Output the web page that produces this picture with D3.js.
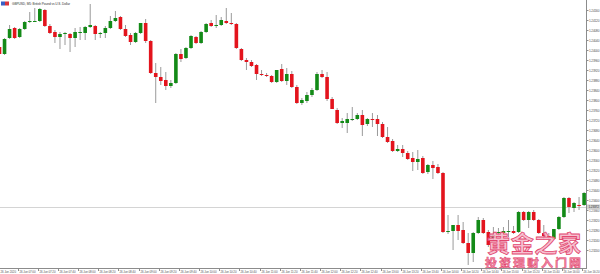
<!DOCTYPE html>
<html>
<head>
<meta charset="utf-8">
<script src="https://cdn.jsdelivr.net/npm/d3@7/dist/d3.min.js"></script>
<style>
  html, body { margin: 0; padding: 0; background: #fff; }
  svg { display: block; }
</style>
</head>
<body>
<svg id="chart" width="600" height="274"></svg>
<script>
// GBPUSD M5 candles
var open = [1.24012,1.23984,1.24048,1.24088,1.24052,1.24084,1.24112,1.24114,1.24116,1.24160,
  1.24096,1.24072,1.24052,1.24064,1.24064,1.24048,1.24070,1.24068,1.24092,1.24096,
  1.24064,1.24068,1.24088,1.24116,1.24132,1.24084,1.24060,1.24032,1.24068,1.24108,
  1.24036,1.23908,1.23892,1.23880,1.23856,1.23868,1.23984,1.23968,1.24008,1.24052,
  1.24028,1.24072,1.24108,1.24099,1.24100,1.24116,1.24108,1.24104,1.24004,1.23960,
  1.23952,1.23940,1.23904,1.23900,1.23896,1.23872,1.23924,1.23876,1.23904,1.23852,
  1.23788,1.23796,1.23820,1.23840,1.23904,1.23892,1.23804,1.23760,1.23708,1.23708,
  1.23722,1.23724,1.23740,1.23704,1.23724,1.23724,1.23704,1.23652,1.23636,1.23596,
  1.23604,1.23588,1.23568,1.23552,1.23568,1.23512,1.23540,1.23532,1.23508,1.23274,
  1.23276,1.23300,1.23280,1.23228,1.23188,1.23268,1.23320,1.23272,1.23248,1.23271,
  1.23268,1.23272,1.23276,1.23272,1.23352,1.23320,1.23352,1.23320,1.23268,1.23256,
  1.23244,1.23284,1.23332,1.23408,1.23368,1.23380,1.23380];
var high = [1.24020,1.24048,1.24100,1.24092,1.24088,1.24116,1.24152,1.24168,1.24168,1.24164,
  1.24104,1.24080,1.24072,1.24072,1.24068,1.24088,1.24092,1.24096,1.24184,1.24100,
  1.24072,1.24096,1.24136,1.24156,1.24136,1.24100,1.24068,1.24072,1.24108,1.24124,
  1.24040,1.23948,1.23932,1.23912,1.23880,1.23988,1.24004,1.24012,1.24060,1.24056,
  1.24076,1.24108,1.24120,1.24140,1.24132,1.24168,1.24148,1.24108,1.24008,1.23968,
  1.23960,1.23944,1.23920,1.23908,1.23900,1.23920,1.23944,1.23928,1.23916,1.23860,
  1.23808,1.23832,1.23848,1.23912,1.23920,1.23912,1.23812,1.23768,1.23728,1.23748,
  1.23772,1.23748,1.23760,1.23728,1.23748,1.23740,1.23712,1.23692,1.23644,1.23620,
  1.23620,1.23596,1.23592,1.23600,1.23576,1.23544,1.23556,1.23544,1.23512,1.23340,
  1.23300,1.23340,1.23312,1.23268,1.23272,1.23332,1.23328,1.23280,1.23292,1.23288,
  1.23292,1.23320,1.23296,1.23356,1.23356,1.23356,1.23360,1.23324,1.23300,1.23268,
  1.23260,1.23336,1.23412,1.23412,1.23392,1.23412,1.23432];
var low = [1.23980,1.23980,1.24044,1.24044,1.24048,1.24080,1.24108,1.24112,1.24112,1.24092,
  1.24064,1.24028,1.24004,1.24020,1.23992,1.24012,1.24040,1.24040,1.24088,1.24040,
  1.24048,1.24048,1.24084,1.24112,1.24080,1.24052,1.24020,1.24028,1.24064,1.24028,
  1.23904,1.23788,1.23860,1.23840,1.23848,1.23864,1.23952,1.23964,1.24004,1.24024,
  1.24024,1.24068,1.24092,1.24088,1.24096,1.24104,1.24100,1.24004,1.23956,1.23920,
  1.23932,1.23880,1.23896,1.23892,1.23868,1.23868,1.23872,1.23860,1.23848,1.23784,
  1.23780,1.23788,1.23812,1.23836,1.23888,1.23796,1.23764,1.23704,1.23688,1.23668,
  1.23716,1.23720,1.23656,1.23696,1.23692,1.23656,1.23648,1.23628,1.23592,1.23592,
  1.23572,1.23560,1.23516,1.23520,1.23504,1.23504,1.23484,1.23504,1.23268,1.23264,
  1.23200,1.23240,1.23224,1.23140,1.23152,1.23264,1.23264,1.23212,1.23240,1.23256,
  1.23260,1.23252,1.23264,1.23268,1.23316,1.23288,1.23316,1.23264,1.23240,1.23236,
  1.23240,1.23280,1.23328,1.23348,1.23352,1.23360,1.23376];
var close = [1.23984,1.24044,1.24084,1.24048,1.24084,1.24112,1.24116,1.24116,1.24164,1.24096,
  1.24068,1.24052,1.24064,1.24068,1.24048,1.24072,1.24072,1.24092,1.24100,1.24064,
  1.24068,1.24088,1.24116,1.24128,1.24084,1.24056,1.24032,1.24068,1.24108,1.24036,
  1.23908,1.23892,1.23876,1.23856,1.23868,1.23984,1.23964,1.24008,1.24056,1.24028,
  1.24072,1.24104,1.24096,1.24100,1.24120,1.24108,1.24104,1.24008,1.23960,1.23952,
  1.23936,1.23904,1.23900,1.23896,1.23872,1.23920,1.23876,1.23904,1.23852,1.23788,
  1.23800,1.23820,1.23840,1.23904,1.23892,1.23804,1.23764,1.23708,1.23716,1.23724,
  1.23724,1.23740,1.23700,1.23724,1.23720,1.23704,1.23652,1.23632,1.23596,1.23604,
  1.23588,1.23564,1.23552,1.23564,1.23508,1.23540,1.23528,1.23508,1.23272,1.23276,
  1.23300,1.23276,1.23228,1.23188,1.23268,1.23320,1.23268,1.23220,1.23260,1.23272,
  1.23276,1.23276,1.23268,1.23352,1.23320,1.23352,1.23320,1.23268,1.23256,1.23252,
  1.23284,1.23332,1.23408,1.23372,1.23388,1.23376,1.23428];

var priceTicks = d3.range(0, 25).map(function(i) { return +(1.24160 - i * 0.00040).toFixed(5); });
var timeLabels = ['26 Jun 2020'].concat(d3.range(0, 29).map(function(j) {
  var m = 6 * 60 + 40 + (4 * j + 4) * 5;
  return '26 Jun ' + d3.format('02')(Math.floor(m / 60)) + ':' + d3.format('02')(m % 60);
}));
var linePrice = 1.23372;
var title = 'GBPUSD, M5:  British Pound vs U.S. Dollar';

var candles = open.map(function(o, i) {
  return { i: i, o: o, h: high[i], l: low[i], c: close[i] };
});

var plotRight = 586, plotBottom = 268;
var bodyW = 3.6;
var red = '#e3141d', green = '#138a17', wickCol = '#9a9a9a';
var font = 'Arial, "Liberation Sans", sans-serif';

var svg = d3.select('#chart');

var x = d3.scaleLinear().domain([0, 116]).range([-0.5, 584.1]);
var y = d3.scaleLinear().domain([1.23200, 1.24160]).range([250, 10]);

// price line
svg.append('line')
  .attr('x1', 0).attr('x2', plotRight)
  .attr('y1', Math.round(y(linePrice)) + 0.5).attr('y2', Math.round(y(linePrice)) + 0.5)
  .attr('stroke', '#d4d4d4').attr('stroke-width', 1);

var g = svg.append('g');

g.selectAll('line.wick').data(candles).enter().append('line')
  .attr('class', 'wick')
  .attr('x1', function(d) { return x(d.i); })
  .attr('x2', function(d) { return x(d.i); })
  .attr('y1', function(d) { return y(d.h); })
  .attr('y2', function(d) { return y(d.l); })
  .attr('stroke', wickCol).attr('stroke-width', 1);

g.selectAll('rect.body').data(candles).enter().append('rect')
  .attr('class', 'body')
  .attr('x', function(d) { return x(d.i) - bodyW / 2; })
  .attr('width', bodyW)
  .attr('y', function(d) { return y(Math.max(d.o, d.c)); })
  .attr('height', function(d) { return Math.max(1, Math.abs(y(d.o) - y(d.c))); })
  .attr('fill', function(d) { return d.c >= d.o ? green : red; });

// watermark
var wm = svg.append('g').attr('font-family', '"Noto Sans CJK SC", sans-serif').attr('font-weight', 'bold');
wm.append('text')
  .attr('x', 534).attr('y', 252).attr('text-anchor', 'middle')
  .attr('font-size', 23).attr('textLength', 94)
  .attr('fill', '#f6b8ca').attr('fill-opacity', 0.9)
  .attr('stroke', '#e2476f').attr('stroke-width', 0.8)
  .text('黄金之家');
wm.append('text')
  .attr('x', 533).attr('y', 267.5).attr('text-anchor', 'middle')
  .attr('font-size', 12).attr('textLength', 96)
  .attr('fill', '#f08aa6')
  .attr('stroke', '#e2476f').attr('stroke-width', 0.5)
  .text('投资理财入门网');

// axes frame
svg.append('line').attr('x1', plotRight + 0.5).attr('x2', plotRight + 0.5)
  .attr('y1', 0).attr('y2', plotBottom).attr('stroke', '#8c8c8c');
svg.append('line').attr('x1', 0).attr('x2', plotRight + 1)
  .attr('y1', plotBottom + 0.5).attr('y2', plotBottom + 0.5).attr('stroke', '#8c8c8c');

// right price axis
var yAxis = d3.axisRight(y).tickValues(priceTicks).tickSize(2).tickPadding(0.5)
  .tickFormat(d3.format('.5f'));
svg.append('g').attr('transform', 'translate(' + (plotRight + 0.5) + ',0)')
  .call(yAxis)
  .call(function(a) {
    a.select('.domain').remove();
    a.selectAll('line').attr('stroke', '#8c8c8c');
    a.selectAll('text').attr('font-size', 3.2).attr('fill', '#555')
      .attr('font-family', font).attr('textLength', 10.5);
  });

// current price marker
var lp = svg.append('g').attr('transform', 'translate(' + (plotRight + 1) + ',' + y(linePrice) + ')');
lp.append('rect').attr('x', 0).attr('y', -2.5).attr('width', 13).attr('height', 5).attr('fill', '#d0d0d0');
lp.append('text').attr('x', 1.5).attr('y', 1.2).attr('font-size', 3.2).attr('fill', '#333')
  .attr('font-family', font).attr('textLength', 10.5)
  .text(d3.format('.5f')(linePrice));

// bottom time axis
var tickIdx = d3.range(0, 29).map(function(j) { return 4 * j + 4; });
var xa = svg.append('g').attr('font-family', font).attr('font-size', 2.9).attr('fill', '#555');
xa.append('text').attr('x', 0.5).attr('y', 272.5).attr('textLength', 15.5).text(timeLabels[0]);
tickIdx.forEach(function(k, j) {
  var px = Math.round(x(k)) - 1.5;
  xa.append('line').attr('x1', px).attr('x2', px).attr('y1', plotBottom).attr('y2', plotBottom + 3)
    .attr('stroke', '#8c8c8c');
  xa.append('text').attr('x', px + 1).attr('y', 272.5).attr('textLength', 16)
    .text(timeLabels[j + 1]);
});

// title
svg.append('rect').attr('x', 1).attr('y', 1.5).attr('width', 4).attr('height', 4).attr('fill', '#3b5fc4');
svg.append('rect').attr('x', 5).attr('y', 1.5).attr('width', 4).attr('height', 4).attr('fill', '#d9343a');
svg.append('text').attr('x', 12).attr('y', 5).attr('font-size', 3.2).attr('fill', '#333')
  .attr('font-family', font).attr('textLength', 58).text(title);
</script>
</body>
</html>
